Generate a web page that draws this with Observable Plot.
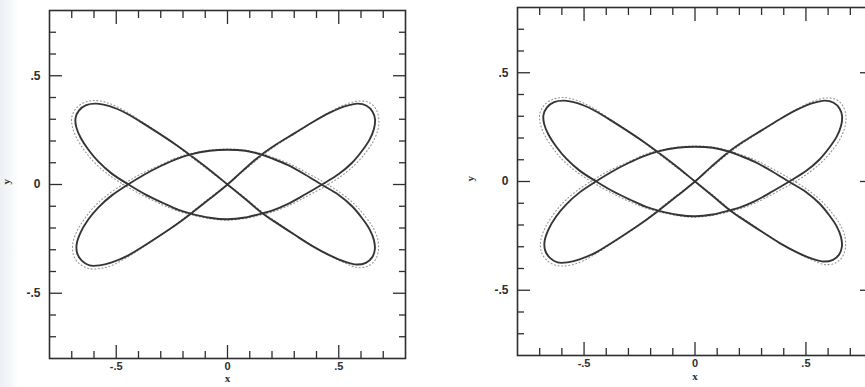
<!DOCTYPE html>
<html><head><meta charset="utf-8">
<script src="https://cdn.jsdelivr.net/npm/d3@7"></script>
<script src="https://cdn.jsdelivr.net/npm/@observablehq/plot@0.6"></script>
<style>
html,body{margin:0;padding:0;width:865px;height:387px;overflow:hidden;background:#fff;}
#wrap{position:relative;width:865px;height:387px;overflow:hidden;
  background:linear-gradient(to right,#eceff3 0px,#f4f6f8 10px,#ffffff 18px);}
#left{position:absolute;left:0;top:0;width:430px;height:387px;}
#right{position:absolute;left:430px;top:0;width:460px;height:387px;}
#wrap svg{max-width:none !important;display:block;}
</style></head><body>
<div id="wrap"><div id="left"></div><div id="right"></div></div>
<script>
// main orbit trace, closed path starting at the origin
const orbitX = [0.00,0.07,0.15,0.22,0.30,0.38,0.46,0.53,0.585,0.625,0.652,0.663,0.658,0.638,0.605,0.56,0.50,0.425,0.35,0.27,0.20,0.155,0.08,0.00,-0.08,-0.165,-0.22,-0.29,-0.37,-0.445,-0.52,-0.58,-0.625,-0.66,-0.68,-0.683,-0.668,-0.635,-0.59,-0.53,-0.46,-0.39,-0.31,-0.235,-0.17,-0.08,
  0.00,0.08,0.158,0.225,0.30,0.38,0.46,0.53,0.58,0.622,0.65,0.662,0.658,0.638,0.605,0.56,0.50,0.422,0.35,0.27,0.20,0.152,0.08,0.00,-0.08,-0.17,-0.23,-0.30,-0.375,-0.447,-0.52,-0.58,-0.625,-0.66,-0.678,-0.675,-0.655,-0.62,-0.575,-0.52,-0.45,-0.38,-0.30,-0.225,-0.163,-0.08];
const orbitY = [0.00,0.065,0.135,0.185,0.235,0.285,0.33,0.36,0.372,0.362,0.335,0.30,0.255,0.205,0.155,0.10,0.048,0.00,-0.045,-0.09,-0.12,-0.133,-0.152,-0.16,-0.153,-0.134,-0.117,-0.085,-0.045,0.00,0.05,0.105,0.16,0.215,0.265,0.305,0.34,0.365,0.372,0.36,0.33,0.288,0.236,0.185,0.137,0.067,
  0.00,-0.067,-0.133,-0.18,-0.23,-0.282,-0.326,-0.356,-0.368,-0.36,-0.335,-0.30,-0.255,-0.205,-0.155,-0.10,-0.048,0.00,0.045,0.09,0.12,0.138,0.155,0.16,0.155,0.137,0.117,0.085,0.045,0.00,-0.05,-0.105,-0.16,-0.22,-0.275,-0.318,-0.35,-0.372,-0.372,-0.358,-0.328,-0.285,-0.232,-0.18,-0.133,-0.066];

// faint scattered neighbouring trace
const haloX = [0.00,0.07,0.15,0.22,0.30,0.38,0.46,0.53,0.59,0.638,0.668,0.68,0.676,0.655,0.62,0.572,0.51,0.44,0.36,0.28,0.20,0.15,0.08,0.00,-0.08,-0.16,-0.22,-0.30,-0.385,-0.46,-0.535,-0.597,-0.642,-0.677,-0.697,-0.70,-0.683,-0.645,-0.592,-0.53,-0.46,-0.39,-0.31,-0.235,-0.17,-0.08,
  0.00,0.08,0.158,0.225,0.30,0.38,0.46,0.53,0.585,0.632,0.664,0.678,0.676,0.655,0.62,0.572,0.51,0.437,0.36,0.28,0.20,0.152,0.08,0.00,-0.08,-0.17,-0.23,-0.30,-0.39,-0.462,-0.537,-0.597,-0.642,-0.678,-0.696,-0.692,-0.668,-0.625,-0.57,-0.515,-0.45,-0.38,-0.30,-0.225,-0.163,-0.08];
const haloY = [0.00,0.06,0.128,0.18,0.232,0.284,0.334,0.368,0.384,0.376,0.345,0.302,0.252,0.198,0.145,0.09,0.038,-0.008,-0.052,-0.095,-0.127,-0.14,-0.156,-0.164,-0.157,-0.14,-0.123,-0.09,-0.048,-0.005,0.045,0.10,0.155,0.212,0.265,0.308,0.347,0.376,0.386,0.372,0.338,0.292,0.238,0.183,0.132,0.062,
  0.00,-0.062,-0.128,-0.176,-0.228,-0.281,-0.328,-0.362,-0.382,-0.375,-0.347,-0.305,-0.255,-0.20,-0.148,-0.092,-0.04,0.008,0.052,0.095,0.126,0.142,0.158,0.163,0.158,0.141,0.123,0.09,0.048,0.005,-0.046,-0.10,-0.157,-0.218,-0.276,-0.325,-0.362,-0.386,-0.386,-0.37,-0.334,-0.288,-0.234,-0.178,-0.128,-0.062];

const axisDomain = [-0.8, 0.8];
const minorTicks = [-0.7,-0.6,-0.4,-0.3,-0.2,-0.1,0.1,0.2,0.3,0.4,0.6,0.7];
const majorTicks = [-0.5, 0, 0.5];
const tickLabels = ["-.5", "0", ".5"];
const xTitle = "x", yTitle = "y";

const orbit = orbitX.map((x, i) => ({x, y: orbitY[i]}));
const halo = haloX.map((x, i) => ({x, y: haloY[i]}));
const fmt = d => tickLabels[majorTicks.indexOf(d)] ?? "";
const blank = () => "";

function panel({width, marginLeft, marginRight, marginTop, marginBottom, xTitleDy, yTitleDx}) {
  const ink = "#2e2e2e";
  const tickOpts = {stroke: ink, strokeWidth: 1.3, tickFormat: blank, label: null};
  const titleFont = {fontFamily: "'Liberation Serif', 'DejaVu Serif', serif", fontWeight: "bold", fontSize: 11, fill: ink, text: d => d};
  return Plot.plot({
    width, height: 387, marginLeft, marginRight, marginTop, marginBottom,
    x: {domain: axisDomain}, y: {domain: axisDomain},
    style: {fontFamily: "'Liberation Sans', Arial, sans-serif", fontSize: "11px", color: ink, background: "transparent", overflow: "visible"},
    marks: [
      Plot.line(halo, {x: "x", y: "y", curve: "catmull-rom-closed", stroke: "#7a7a7a", strokeWidth: 1.1, strokeDasharray: "1 2.6", strokeOpacity: 0.8}),
      Plot.line(orbit, {x: "x", y: "y", curve: "catmull-rom-closed", stroke: "#2a2a2a", strokeWidth: 1.9, strokeOpacity: 0.95}),
      Plot.frame({stroke: ink, strokeWidth: 1.6}),
      Plot.axisX(minorTicks, {anchor: "bottom", tickSize: -7, ...tickOpts}),
      Plot.axisX(minorTicks, {anchor: "top", tickSize: -7, ...tickOpts}),
      Plot.axisX(majorTicks, {anchor: "bottom", tickSize: -13, ...tickOpts}),
      Plot.axisX(majorTicks, {anchor: "top", tickSize: -13, ...tickOpts}),
      Plot.axisY(minorTicks, {anchor: "left", tickSize: -7, ...tickOpts}),
      Plot.axisY(minorTicks, {anchor: "right", tickSize: -7, ...tickOpts}),
      Plot.axisY(majorTicks, {anchor: "left", tickSize: -13, ...tickOpts}),
      Plot.axisY(majorTicks, {anchor: "right", tickSize: -13, ...tickOpts}),
      Plot.axisX(majorTicks, {anchor: "bottom", tickSize: 0, tickPadding: 4, tickFormat: fmt, fontWeight: "bold", fontSize: 11, fill: ink, label: null}),
      Plot.axisY(majorTicks, {anchor: "left", tickSize: 0, tickPadding: 9, tickFormat: fmt, fontWeight: "bold", fontSize: 12, fill: ink, label: null}),
      Plot.text([xTitle], {frameAnchor: "bottom", dy: xTitleDy, ...titleFont}),
      Plot.text([yTitle], {frameAnchor: "left", dx: yTitleDx, rotate: -90, ...titleFont})
    ]
  });
}

document.getElementById("left").append(panel({width: 430, marginLeft: 49, marginRight: 25, marginTop: 10, marginBottom: 29, xTitleDy: 23, yTitleDx: -43}));
document.getElementById("right").append(panel({width: 460, marginLeft: 87, marginRight: 18, marginTop: 7, marginBottom: 32, xTitleDy: 24, yTitleDx: -47}));
</script>
</body></html>
